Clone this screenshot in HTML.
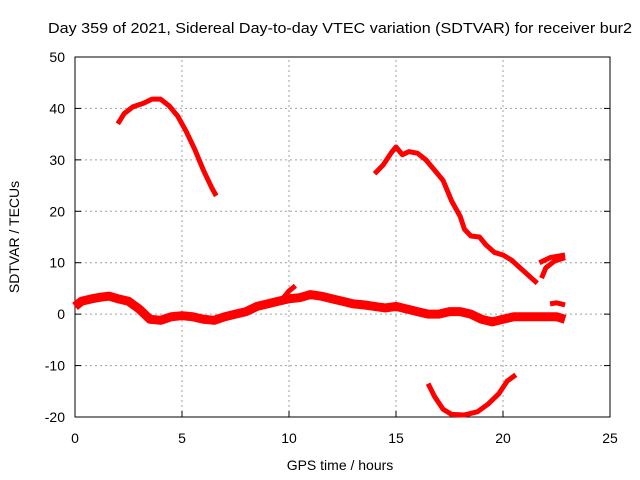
<!DOCTYPE html>
<html><head><meta charset="utf-8"><style>
body{margin:0;background:#fff}
svg{display:block;font-family:"Liberation Sans",sans-serif;font-size:14px}
</style></head><body>
<svg id="chart" width="640" height="480">
<text x="48" y="33" textLength="584" lengthAdjust="spacingAndGlyphs" style="font-size:15px">Day 359 of 2021, Sidereal Day-to-day VTEC variation (SDTVAR) for receiver bur2</text>
<g id="grid"></g><g id="axes"></g><g id="series"></g>
<text x="340" y="470" text-anchor="middle">GPS time / hours</text>
<text transform="translate(19,237) rotate(-90)" text-anchor="middle">SDTVAR / TECUs</text>
</svg>
<script>
const xTicks=[0,5,10,15,20,25];
const yTicks=[-20,-10,0,10,20,30,40,50];
const segA=[[2.0,37],[2.3,39],[2.7,40.3],[3.2,41],[3.6,41.8],[4.0,41.8],[4.4,40.5],[4.8,38.5],[5.2,35.5],[5.6,32],[6.0,28],[6.4,24.5],[6.6,23]];
const segB=[[14.0,27.3],[14.4,29],[14.8,31.5],[15.0,32.5],[15.3,31],[15.6,31.6],[16.0,31.3],[16.4,30],[16.8,28],[17.2,26],[17.6,22],[18.0,19],[18.2,16.5],[18.5,15.2],[18.9,15],[19.2,13.5],[19.6,12],[20.0,11.5],[20.4,10.5],[20.8,9],[21.2,7.5],[21.6,6]];
const segC=[[21.8,7],[22.0,9],[22.4,10.3],[22.9,11]];
const segC2=[[21.7,10],[22.2,11],[22.9,11.5]];
const segD=[[16.5,-13.5],[16.8,-16],[17.2,-18.5],[17.6,-19.5],[18.2,-19.6],[18.8,-19],[19.3,-17.5],[19.8,-15.5],[20.2,-13],[20.6,-11.8]];
const segE=[[0,1.5],[0.3,2.5],[0.8,3],[1.2,3.3],[1.6,3.5],[2.0,3],[2.5,2.5],[3.0,1],[3.5,-1],[4.0,-1.2],[4.5,-0.5],[5,-0.3],[5.5,-0.5],[6,-1],[6.5,-1.2],[7,-0.5],[7.5,0],[8,0.5],[8.5,1.5],[9,2],[9.5,2.5],[10,3],[10.5,3.2],[11,3.8],[11.5,3.5],[12,3],[12.5,2.5],[13,2],[13.5,1.8],[14,1.5],[14.5,1.2],[15,1.5],[15.5,1],[16,0.5],[16.5,0],[17,0],[17.5,0.5],[18,0.5],[18.5,0],[19,-1],[19.5,-1.5],[20,-1],[20.5,-0.5],[21,-0.5],[21.5,-0.5],[22,-0.5],[22.5,-0.5],[22.9,-1]];
const segF=[[9.7,3],[10.0,4.5],[10.3,5.5]];
const segG=[[22.2,2],[22.5,2.2],[22.9,1.8]];
const NS="http://www.w3.org/2000/svg";
const X0=75,X1=610,Y0=417,Y1=57;
const sx=v=>X0+(v-0)/25*(X1-X0);
const sy=v=>Y0-(v+20)/70*(Y0-Y1);
function mk(t,a,p){const e=document.createElementNS(NS,t);for(const k in a)e.setAttribute(k,a[k]);p.appendChild(e);return e;}
const g=document.getElementById('grid'),ax=document.getElementById('axes'),s=document.getElementById('series');
xTicks.forEach(t=>{
 if(t>0&&t<25){const l=mk('line',{x1:sx(t),x2:sx(t),y1:Y0,y2:Y1,stroke:'#a0a0a0','stroke-dasharray':'2,3'},g);
 
 }
 const tk=mk('line',{x1:sx(t),x2:sx(t),y1:Y0,y2:Y0-6,stroke:'#000'},ax);
 
 
 const tx=mk('text',{x:sx(t),y:Y0+26,'text-anchor':'middle'},ax);tx.textContent=t;
 
 
});
yTicks.forEach(t=>{
 if(t>-20&&t<50){const l=mk('line',{x1:X0,x2:X1,y1:sy(t),y2:sy(t),stroke:'#a0a0a0','stroke-dasharray':'2,3'},g);
 
 }
 const tk=mk('line',{x1:X0,x2:X0+6,y1:sy(t),y2:sy(t),stroke:'#000'},ax);
 
 
 const tk2=mk('line',{x1:X1,x2:X1-6,y1:sy(t),y2:sy(t),stroke:'#000'},ax);
 
 
 const tx=mk('text',{x:X0-10,y:sy(t)+5,'text-anchor':'end'},ax);tx.textContent=t;
 
 
});
const fr=mk('rect',{x:X0,y:Y1,width:X1-X0,height:Y0-Y1,fill:'none',stroke:'#000'},ax);


function line(seg,w,name){
 const p=mk('polyline',{points:seg.map(d=>sx(d[0])+','+sy(d[1])).join(' '),fill:'none',stroke:'#ff0000','stroke-width':w,'stroke-linejoin':'round','stroke-linecap':'butt'},s);
 
 
}
line(segA,5,'series-arc-a');line(segB,5,'series-arc-b');line(segC,5,'series-arc-c');line(segC2,5,'series-arc-c2');
line(segD,5,'series-arc-d');line(segE,9,'series-baseline');line(segF,5,'series-bump');line(segG,5,'series-tail');
</script>
</body></html>
